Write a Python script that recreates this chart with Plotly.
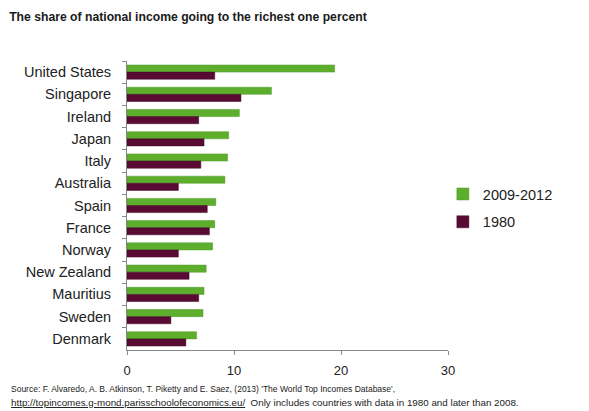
import plotly.graph_objects as go

countries = ["United States", "Singapore", "Ireland", "Japan", "Italy", "Australia",
             "Spain", "France", "Norway", "New Zealand", "Mauritius", "Sweden", "Denmark"]
recent = [19.4, 13.5, 10.5, 9.5, 9.4, 9.15, 8.3, 8.2, 8.0, 7.4, 7.2, 7.1, 6.5]
y1980 = [8.2, 10.65, 6.7, 7.2, 6.9, 4.8, 7.5, 7.7, 4.8, 5.8, 6.7, 4.1, 5.5]
series_names = ["2009-2012", "1980"]
x_ticks = [0, 10, 20, 30]

GREEN = "#5eae2e"
MAROON = "#5a0b33"
FONT = "Liberation Sans, Arial, sans-serif"

fig = go.Figure()
fig.add_trace(go.Bar(y=countries, x=recent, name=series_names[0], orientation="h",
                     marker=dict(color=GREEN, line=dict(color="#4e9a25", width=0.5)),
                     legendgroup="a"))
fig.add_trace(go.Bar(y=countries, x=y1980, name=series_names[1], orientation="h",
                     marker=dict(color=MAROON, line=dict(color="#3f0723", width=0.5)),
                     legendgroup="b"))

fig.update_layout(
    width=573, height=403,
    margin=dict(l=119, r=133, t=53, b=61, autoexpand=False),
    paper_bgcolor="white", plot_bgcolor="white",
    barmode="group", bargap=0.36, bargroupgap=0.0,
    font=dict(family=FONT, color="#222222", size=12),
    title=dict(text="<b>The share of national income going to the richest one percent</b>",
               x=0.002, xanchor="left", y=0.978, yanchor="middle",
               font=dict(size=12.2, color="#1a1a1a", family=FONT)),
    showlegend=True,
    legend=dict(x=0.984, xanchor="left", y=0.595, yanchor="top",
                traceorder="grouped", tracegroupgap=6, itemwidth=30,
                font=dict(size=14.5, color="#222222", family=FONT),
                bgcolor="rgba(0,0,0,0)"),
    xaxis=dict(range=[0, 30], tickvals=x_ticks, ticks="outside", ticklen=4,
               tickcolor="#888888", showline=True, linecolor="#888888", linewidth=1,
               showgrid=False, zeroline=False, tickfont=dict(size=13, color="#222222"),
               ticklabelstandoff=4),
    yaxis=dict(autorange="reversed", ticks="outside", ticklen=4, tickson="boundaries",
               tickcolor="#888888", showline=True, linecolor="#888888", linewidth=1,
               showgrid=False, tickfont=dict(size=14.5, color="#222222"), ticklabelstandoff=12),
)

fig.add_annotation(xref="paper", yref="paper", x=-0.3676, y=-0.135, xanchor="left", yanchor="middle",
                   align="left", showarrow=False,
                   text="Source: F. Alvaredo, A. B. Atkinson, T. Piketty and E. Saez, (2013) 'The World Top Incomes Database',",
                   font=dict(size=8.5, color="#222222", family=FONT))
fig.add_annotation(xref="paper", yref="paper", x=-0.3676, y=-0.182, xanchor="left", yanchor="middle",
                   align="left", showarrow=False,
                   text="<u>http://topincomes.g-mond.parisschoolofeconomics.eu/</u>  Only includes countries with data in 1980 and later than 2008.",
                   font=dict(size=9.8, color="#222222", family=FONT))

fig.write_html("out.html")
